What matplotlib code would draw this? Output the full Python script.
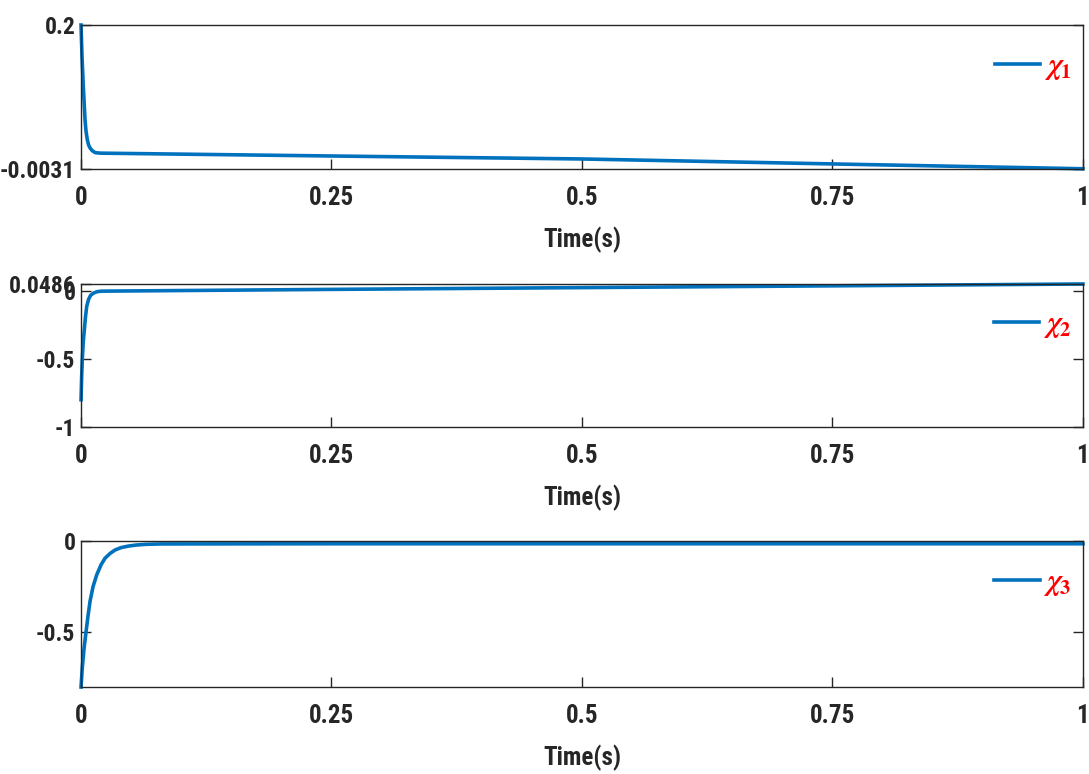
import matplotlib
matplotlib.use("Agg")
import matplotlib.pyplot as plt
from matplotlib import font_manager

# values
t1 = [0, 0.001, 0.0023, 0.0032, 0.004, 0.005, 0.0063, 0.0075, 0.009, 0.011, 0.014,
      0.017, 0.02, 0.25, 0.5, 0.75, 1.0]
chi1 = [0.2, 0.155, 0.113, 0.088, 0.066, 0.050, 0.038, 0.031, 0.0265, 0.023, 0.020,
        0.0195, 0.0192, 0.0152, 0.0110, 0.0040, -0.0028]

t2 = [0, 0.0006, 0.0013, 0.0022, 0.0033, 0.0045, 0.0057, 0.0075, 0.0095, 0.0125,
      0.016, 0.02, 0.25, 0.5, 0.75, 1.0]
chi2 = [-0.80, -0.64, -0.50, -0.38, -0.287, -0.19, -0.115, -0.065, -0.035, -0.018,
        -0.008, -0.004, 0.009, 0.022, 0.035, 0.0486]

t3 = [0, 0.0013, 0.003, 0.005, 0.007, 0.009, 0.012, 0.0157, 0.02, 0.024, 0.029, 0.034,
      0.04, 0.047, 0.055, 0.065, 0.08, 0.25, 0.5, 0.75, 1.0]
chi3 = [-0.80, -0.692, -0.59, -0.498, -0.41, -0.330, -0.25, -0.185, -0.13, -0.094,
        -0.068, -0.049, -0.036, -0.028, -0.022, -0.018, -0.016, -0.015, -0.015, -0.015, -0.015]

xticks = [0, 0.25, 0.5, 0.75, 1]
xticklabels = ["0", "0.25", "0.5", "0.75", "1"]
yticks1 = [-0.0031, 0.2]
yticklabels1 = ["-0.0031", "0.2"]
yticks2 = [-1, -0.5, 0, 0.0486]
yticklabels2 = ["-1", "-0.5", "0", "0.0486"]
yticks3 = [-0.5, 0]
yticklabels3 = ["-0.5", "0"]
labels = [r"$\chi_1$", r"$\chi_2$", r"$\chi_3$"]

# pick a narrow sans if one is around
names = {f.name for f in font_manager.fontManager.ttflist}
stretch = "normal"
fam = None
for cand in ["Liberation Sans Narrow", "Roboto Condensed", "Open Sans Condensed", "Arial Narrow"]:
    if cand in names:
        fam = cand
        break
if fam is None:
    cond = [f for f in font_manager.fontManager.ttflist
            if f.name == "DejaVu Sans" and "ondensed" in f.fname]
    if cond:
        fam, stretch = "DejaVu Sans", "condensed"
    else:
        fam = "Roboto"
plt.rcParams["font.family"] = fam
plt.rcParams["font.stretch"] = stretch
plt.rcParams["font.weight"] = "bold"
plt.rcParams["mathtext.fontset"] = "stix"

blue = "#0072BD"
fs = 18 if fam != "Roboto" else 16
fig = plt.figure(figsize=(10.89, 7.74), dpi=100)

panels = [
    ([0.0744, 0.7817, 0.920, 0.1860], t1, chi1, (-0.0031, 0.2), yticks1, yticklabels1),
    ([0.0744, 0.4483, 0.920, 0.1848], t2, chi2, (-1, 0.0486), yticks2, yticklabels2),
    ([0.0744, 0.1124, 0.920, 0.1886], t3, chi3, (-0.8, 0), yticks3, yticklabels3),
]

for i, (pos, t, y, ylim, yt, ytl) in enumerate(panels):
    ax = fig.add_axes(pos)
    ax.plot(t, y, color=blue, lw=2.6, label=labels[i], clip_on=False,
            solid_joinstyle="round")
    ax.set_xlim(0, 1)
    ax.set_ylim(*ylim)
    ax.set_xticks(xticks)
    ax.set_xticklabels(xticklabels)
    ax.set_yticks(yt)
    ax.set_yticklabels(ytl)
    ax.tick_params(direction="in", length=7, width=1,
                   top=False, right=True, colors="#262626")
    ax.tick_params(axis="x", pad=12, labelsize=fs)
    ax.tick_params(axis="y", pad=4, labelsize=fs - 1)
    for lab in ax.get_xticklabels() + ax.get_yticklabels():
        lab.set_fontweight("bold")
    for s in ax.spines.values():
        s.set_linewidth(1.0)
        s.set_color("#262626")
    ax.set_xlabel("Time(s)", fontsize=fs, fontweight="bold", labelpad=12, color="#262626")
    leg = ax.legend(loc="center right", bbox_to_anchor=(1.0, 0.71), frameon=False,
                    prop={"size": 21, "weight": "normal"},
                    handlelength=1.55, handletextpad=0.15, borderaxespad=0.0)
    for txt in leg.get_texts():
        txt.set_color("red")

fig.savefig("out.png", dpi=100)
